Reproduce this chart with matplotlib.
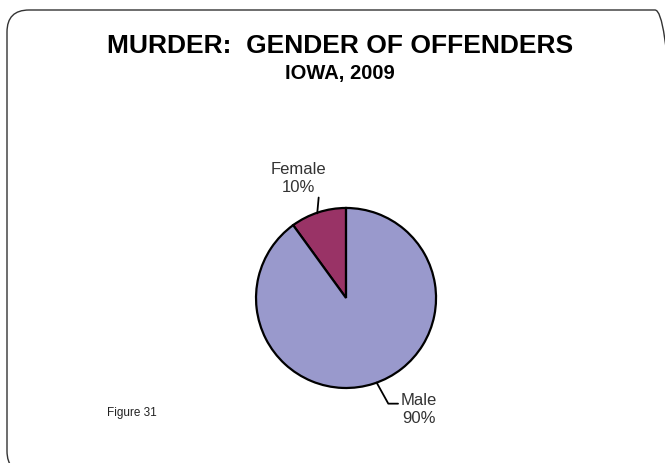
import matplotlib
matplotlib.use('Agg')
import matplotlib.pyplot as plt
from matplotlib.patches import FancyBboxPatch

labels = ['Female', 'Male']
shares = [10, 90]  # percent of offenders
colors = ['#993366', '#9999CC']

plt.rcParams['font.family'] = ['Liberation Sans', 'DejaVu Sans']

fig = plt.figure(figsize=(6.65, 4.63), dpi=100)

# rounded slide frame (in inches so the corners stay round)
frame = FancyBboxPatch((0.07, -0.10), 6.70, 4.63, boxstyle='round,pad=0,rounding_size=0.22',
                       transform=fig.dpi_scale_trans, facecolor='none',
                       edgecolor='#333333', linewidth=1.0, zorder=-1)
fig.patches.append(frame)

fig.text(0.512, 0.900, 'MURDER:  GENDER OF OFFENDERS', ha='center', va='center',
         fontsize=19, fontweight='bold')
fig.text(0.511, 0.841, 'IOWA, 2009', ha='center', va='center',
         fontsize=14.5, fontweight='bold')
fig.text(0.161, 0.107, 'Figure 31', ha='left', va='center', fontsize=8.5, color='#222222')

ax = fig.add_axes([0.385, 0.162, 0.2707, 0.3888])
wedges, _ = ax.pie(shares, colors=colors, startangle=90, counterclock=True,
                   wedgeprops=dict(edgecolor='black', linewidth=1.6))
ax.set_xlim(-1, 1)
ax.set_ylim(-1, 1)
ax.set_aspect('equal')
ax.axis('off')

# labels with leader lines
ax.annotate('{}\n{}%'.format(labels[0], shares[0]), xy=(-0.32, 0.94), xytext=(-0.53, 1.33),
            ha='center', va='center', fontsize=12, color='#333333', linespacing=1.25,
            arrowprops=dict(arrowstyle='-', color='black', lw=1.3, shrinkA=0, shrinkB=0,
                            relpos=(0.87, 0.0)),
            annotation_clip=False)
ax.annotate('{}\n{}%'.format(labels[1], shares[1]), xy=(0.34, -0.94), xytext=(0.81, -1.24),
            ha='center', va='center', fontsize=12, color='#333333', linespacing=1.25,
            arrowprops=dict(arrowstyle='-', color='black', lw=1.3, shrinkA=0, shrinkB=0,
                            relpos=(-0.05, 0.68), connectionstyle='angle,angleA=0,angleB=119,rad=0'),
            annotation_clip=False)

fig.savefig('out.png', dpi=100)
